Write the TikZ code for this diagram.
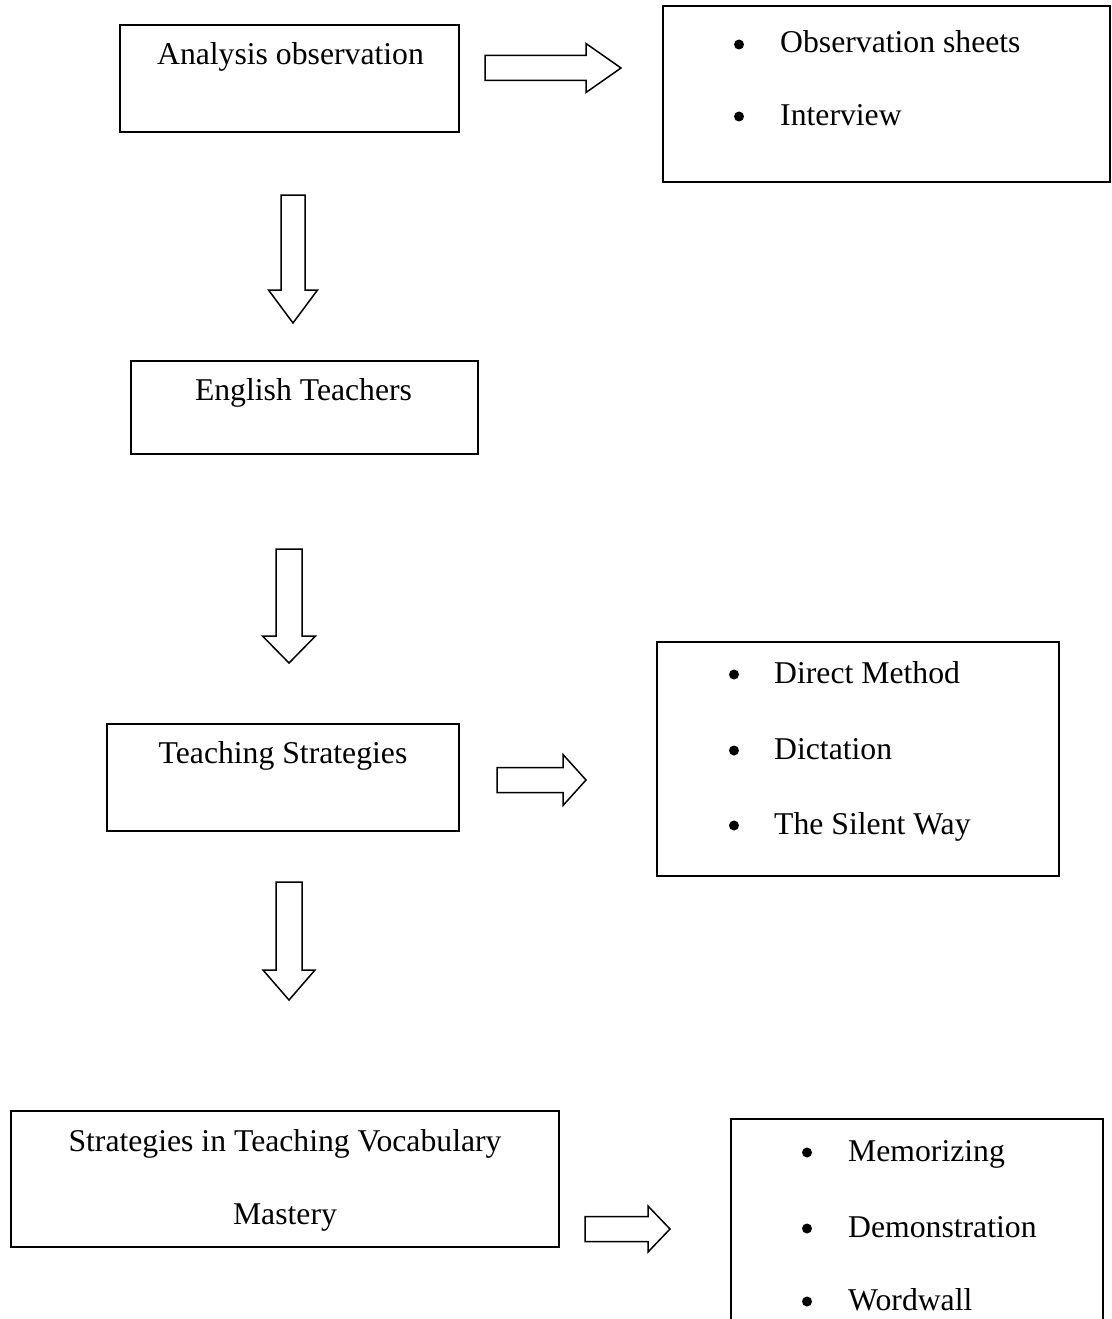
\documentclass[tikz,border=0pt]{standalone}
\usepackage{fontspec}
\setmainfont{Liberation Serif}
\begin{document}
\begin{tikzpicture}[x=1pt,y=-1pt,
  box/.style={draw, line width=1.5pt, inner sep=0pt},
  lbl/.style={font=\fontsize{31.7}{38}\selectfont, inner sep=0pt, anchor=base},
  item/.style={font=\fontsize{31.7}{38}\selectfont, inner sep=0pt, anchor=base west},
  bul/.style={circle, fill=black, inner sep=0pt, minimum size=10pt, yshift=8.5pt},
  arrowline/.style={draw, line width=1.5pt, line join=miter, fill=white},
  pics/rarr/.style args={#1/#2/#3/#4}{code={
    \path[arrowline] (0,-#3) -- (#1,-#3) -- (#1,-#4) -- (#2,0) -- (#1,#4) -- (#1,#3) -- (0,#3) -- cycle;}},
  pics/darr/.style args={#1/#2/#3/#4}{code={
    \path[arrowline] (-#3,0) -- (#3,0) -- (#3,#1) -- (#4,#1) -- (0,#2) -- (-#4,#1) -- (-#3,#1) -- cycle;}}
]
\clip (0,0) rectangle (1111,1319);
\fill[white] (0,0) rectangle (1111,1319);

% boxes
\node[box, minimum width=339pt, minimum height=107pt] (b1) at (289.5,78.5) {};
\node[box, minimum width=447pt, minimum height=176pt] (b2) at (886.5,94) {};
\node[box, minimum width=347pt, minimum height=93pt] (b3) at (304.5,407.5) {};
\node[box, minimum width=352pt, minimum height=107pt] (b4) at (283,777.5) {};
\node[box, minimum width=402pt, minimum height=234pt] (b5) at (858,759) {};
\node[box, minimum width=548pt, minimum height=136pt] (b6) at (285,1179) {};
\node[box, minimum width=372pt, minimum height=221pt] (b7) at (917,1229.5) {};

% texts
\node[lbl] (t1) at (290.5,65) {Analysis observation};
\node[lbl] (t3) at (303.5,400) {English Teachers};
\node[lbl] (t4) at (283,763) {Teaching Strategies};
\node[lbl] (t6a) at (285,1151) {Strategies in Teaching Vocabulary};
\node[lbl] (t6b) at (285,1224) {Mastery};

% bullet lists
\node[bul] (p2a) at (739,53) {};
\node[item] (i2a) at (780,53) {Observation sheets};
\node[bul] (p2b) at (739,125) {};
\node[item] (i2b) at (780,125) {Interview};

\node[bul] (p5a) at (734,683) {};
\node[item] (i5a) at (774,683) {Direct Method};
\node[bul] (p5b) at (734,759) {};
\node[item] (i5b) at (774,759) {Dictation};
\node[bul] (p5c) at (734,834) {};
\node[item] (i5c) at (774,834) {The Silent Way};

\node[bul] (p7a) at (807,1161) {};
\node[item] (i7a) at (848,1161) {Memorizing};
\node[bul] (p7b) at (807,1237) {};
\node[item] (i7b) at (848,1237) {Demonstration};
\node[bul] (p7c) at (807,1310) {};
\node[item] (i7c) at (848,1310) {Wordwall};

% block arrows
\coordinate (r1) at (485,68);
\coordinate (r2) at (497,780);
\coordinate (r3) at (585,1229);
\coordinate (d1) at (293,195);
\coordinate (d2) at (289,549);
\coordinate (d3) at (289,882);
\pic at (r1) {rarr=101/136/12.5/24.5};
\pic at (r2) {rarr=66/89/12.5/25.5};
\pic at (r3) {rarr=63/85/12.5/23};
\pic at (d1) {darr=95/128/12/24.5};
\pic at (d2) {darr=87/114/13/26.5};
\pic at (d3) {darr=88/118/13/26};
\end{tikzpicture}
\end{document}
